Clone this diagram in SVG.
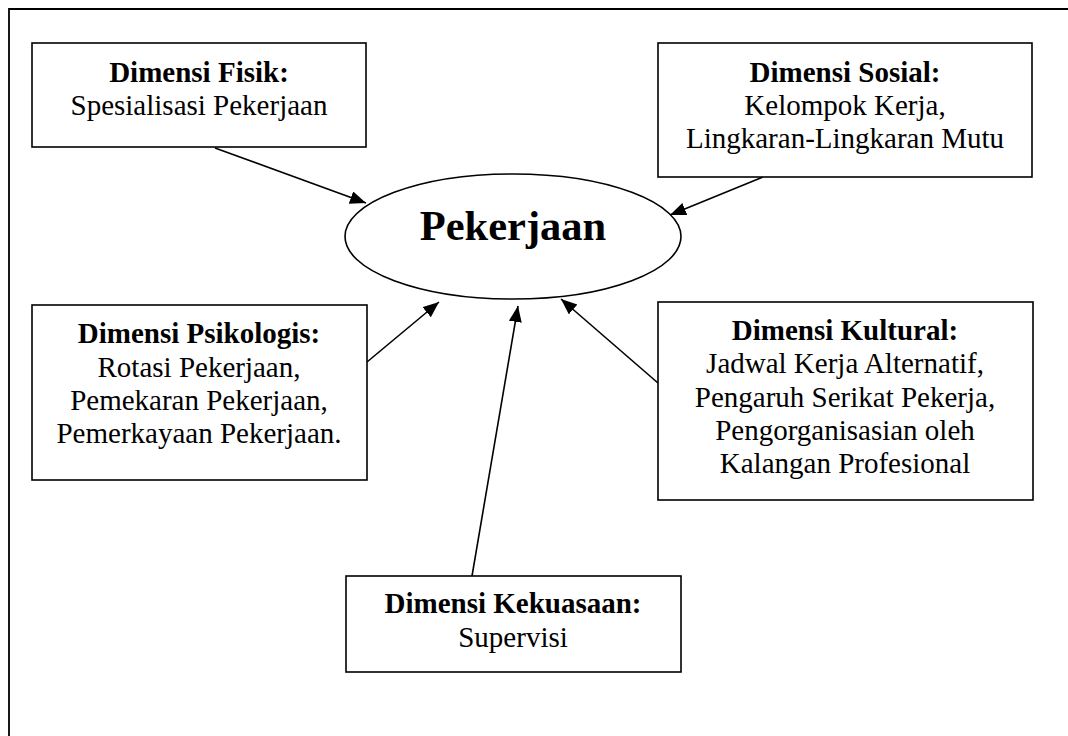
<svg xmlns="http://www.w3.org/2000/svg" width="1068" height="736" viewBox="0 0 1068 736">
<style>
.box{fill:#fff;stroke:#000;stroke-width:1.6}
.t{font-family:"Liberation Serif","Times New Roman",serif;font-size:29px;text-anchor:middle;fill:#000}
.b{font-weight:bold}
.c{stroke:#000;stroke-width:1.6;fill:none;marker-end:url(#ah)}
</style>
<defs>
<marker id="ah" markerUnits="userSpaceOnUse" markerWidth="18" markerHeight="14" refX="16" refY="6.5" orient="auto">
<path d="M0,0 L16,6.5 L0,13 z" fill="#000"/>
</marker>
</defs>
<rect x="0" y="0" width="1068" height="736" fill="#fff"/>
<path d="M9,740 V9 H1072" fill="none" stroke="#000" stroke-width="1.8"/>
<g id="connectors">
<line class="c" x1="215" y1="148" x2="366" y2="203"/>
<line class="c" x1="763" y1="177" x2="670" y2="215"/>
<line class="c" x1="367" y1="362" x2="439" y2="302"/>
<line class="c" x1="658" y1="383" x2="561" y2="299"/>
<line class="c" x1="472" y1="576" x2="518" y2="306"/>
</g>
<g id="pekerjaan">
<ellipse cx="513" cy="236.5" rx="168" ry="62.5" fill="#fff" stroke="#000" stroke-width="1.6"/>
<text class="t b" x="513" y="240" style="font-size:42.5px">Pekerjaan</text>
</g>
<g id="fisik">
<rect class="box" x="32" y="43" width="334" height="104"/>
<text class="t b" x="199" y="82">Dimensi Fisik:</text>
<text class="t" x="199" y="115">Spesialisasi Pekerjaan</text>
</g>
<g id="sosial">
<rect class="box" x="658" y="43" width="374" height="134"/>
<text class="t b" x="845" y="82">Dimensi Sosial:</text>
<text class="t" x="845" y="115">Kelompok Kerja,</text>
<text class="t" x="845" y="148">Lingkaran-Lingkaran Mutu</text>
</g>
<g id="psikologis">
<rect class="box" x="32" y="305" width="335" height="175"/>
<text class="t b" x="199" y="343">Dimensi Psikologis:</text>
<text class="t" x="199" y="377">Rotasi Pekerjaan,</text>
<text class="t" x="199" y="410">Pemekaran Pekerjaan,</text>
<text class="t" x="199" y="443">Pemerkayaan Pekerjaan.</text>
</g>
<g id="kultural">
<rect class="box" x="658" y="302" width="375" height="198"/>
<text class="t b" x="845" y="340">Dimensi Kultural:</text>
<text class="t" x="845" y="373">Jadwal Kerja Alternatif,</text>
<text class="t" x="845" y="407">Pengaruh Serikat Pekerja,</text>
<text class="t" x="845" y="440">Pengorganisasian oleh</text>
<text class="t" x="845" y="473">Kalangan Profesional</text>
</g>
<g id="kekuasaan">
<rect class="box" x="346" y="576" width="335" height="96"/>
<text class="t b" x="513" y="613">Dimensi Kekuasaan:</text>
<text class="t" x="513" y="647">Supervisi</text>
</g>
</svg>
